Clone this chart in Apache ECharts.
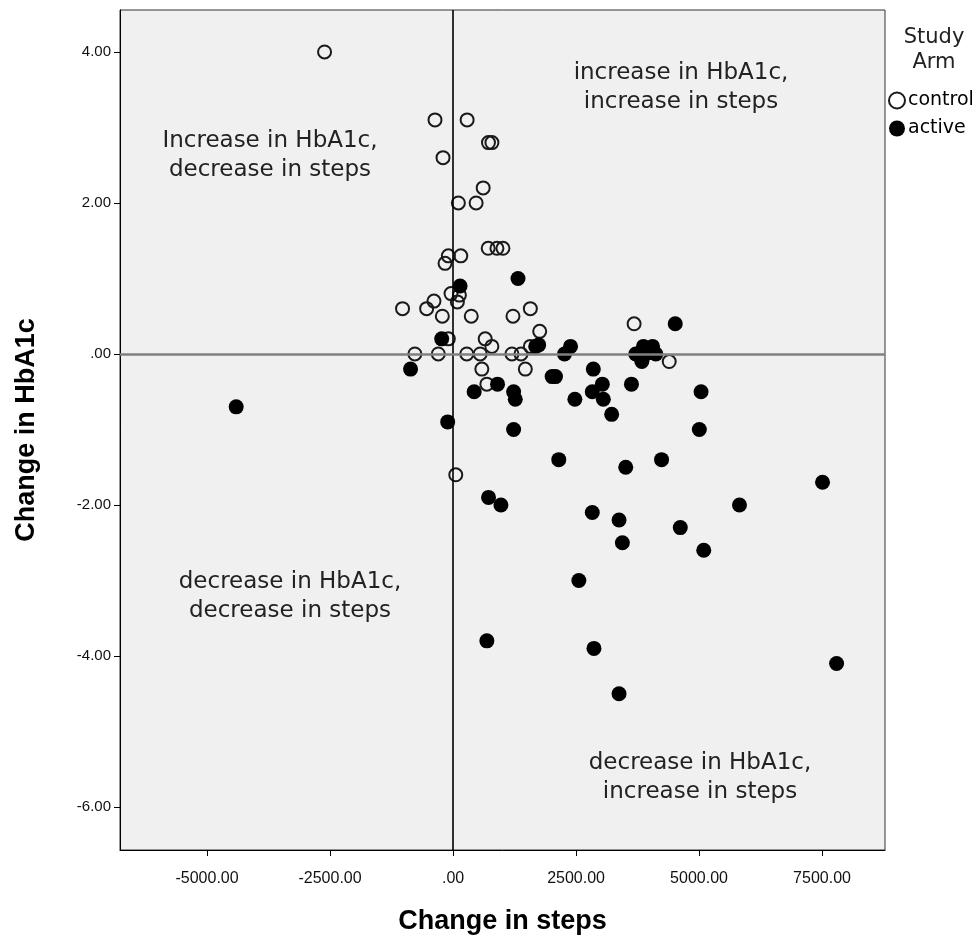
<!DOCTYPE html>
<html>
<head>
<meta charset="utf-8">
<script src="https://cdn.jsdelivr.net/npm/echarts@6/dist/echarts.min.js"></script>
<style>
html,body{margin:0;padding:0;background:#fff;}
#chart{width:980px;height:943px;}
</style>
</head>
<body>
<div id="chart"></div>
<script>
// Study arm: control (open circles) — [change in steps, change in HbA1c]
const controlPoints = [
  [-2612, 4.0], [-367, 3.1], [286, 3.1], [-204, 2.6], [720, 2.8], [790, 2.8],
  [612, 2.2], [108, 2.0], [469, 2.0], [714, 1.4], [892, 1.4], [1014, 1.4],
  [-96, 1.3], [157, 1.3], [-163, 1.2], [-41, 0.8], [129, 0.78], [88, 0.69],
  [-388, 0.7], [-1027, 0.6], [-537, 0.6], [1571, 0.6], [-218, 0.5], [370, 0.5],
  [1218, 0.5], [1761, 0.3], [-96, 0.2], [653, 0.2], [789, 0.1], [1571, 0.1],
  [-776, 0.0], [-300, 0.0], [279, 0.0], [551, 0.0], [1197, 0.0], [1381, 0.0],
  [585, -0.2], [1469, -0.2], [687, -0.4], [55, -1.6], [3680, 0.4], [4394, -0.1]
];
// Study arm: active (filled circles)
const activePoints = [
  [-4408, -0.7], [143, 0.9], [1320, 1.0], [-231, 0.2], [1680, 0.1], [1740, 0.12],
  [-864, -0.2], [429, -0.5], [904, -0.4], [1231, -0.5], [1265, -0.6],
  [2014, -0.3], [2082, -0.3], [-109, -0.9], [1231, -1.0], [2265, 0.0], [2388, 0.1],
  [2851, -0.2], [3034, -0.4], [2830, -0.5], [3055, -0.6], [2476, -0.6], [3224, -0.8],
  [3626, -0.4], [5041, -0.5], [4516, 0.4], [3870, 0.1], [4055, 0.1], [3714, 0.0],
  [3918, 0.0], [4122, 0.0], [3837, -0.1], [5006, -1.0], [2149, -1.4], [3510, -1.5],
  [4238, -1.4], [721, -1.9], [973, -2.0], [2830, -2.1], [3374, -2.2], [3442, -2.5],
  [4619, -2.3], [5096, -2.6], [5822, -2.0], [2557, -3.0], [687, -3.8], [2864, -3.9],
  [3374, -4.5], [7510, -1.7], [7796, -4.1]
];
const xTicks = [-5000, -2500, 0, 2500, 5000, 7500];
const yTicks = [-6, -4, -2, 0, 2, 4];
const seriesNames = ['control', 'active'];
const quadrantNotes = [
  {text: 'increase in HbA1c,\nincrease in steps', x: 681, y: 88},
  {text: 'Increase in HbA1c,\ndecrease in steps', x: 270, y: 156},
  {text: 'decrease in HbA1c,\ndecrease in steps', x: 290, y: 597},
  {text: 'decrease in HbA1c,\nincrease in steps', x: 700, y: 778}
];

const FONT = '"Liberation Sans", Arial, sans-serif';
const NOTE_FONT = '"DejaVu Sans", sans-serif';
const fmt = v => (v === 0 ? '.00' : Number(v).toFixed(2));

const chart = echarts.init(document.getElementById('chart'), null, {renderer: 'canvas'});
chart.setOption({
  animation: false,
  backgroundColor: '#ffffff',
  grid: {
    left: 120, top: 10, right: 95, bottom: 93,
    show: true, backgroundColor: '#f0f0f0', borderColor: '#333', borderWidth: 1
  },
  xAxis: {
    type: 'value', min: -6770, max: 8780,
    name: 'Change in steps', nameLocation: 'middle', nameGap: 58,
    nameTextStyle: {fontFamily: FONT, fontWeight: 'bold', fontSize: 27, color: '#000'},
    axisLine: {show: true, onZero: false, lineStyle: {color: '#000', width: 1}},
    axisTick: {show: true, length: 6, lineStyle: {color: '#000'}, customValues: xTicks},
    axisLabel: {fontFamily: FONT, fontSize: 16, color: '#111', margin: 21, customValues: xTicks, formatter: fmt},
    splitLine: {show: false}
  },
  yAxis: {
    type: 'value', min: -6.57, max: 4.556,
    name: 'Change in HbA1c', nameLocation: 'middle', nameGap: 80, nameRotate: 90,
    nameTextStyle: {fontFamily: FONT, fontWeight: 'bold', fontSize: 27, color: '#000'},
    axisLine: {show: true, onZero: false, lineStyle: {color: '#000', width: 1}},
    axisTick: {show: true, length: 6, lineStyle: {color: '#000'}, customValues: yTicks},
    axisLabel: {fontFamily: FONT, fontSize: 15, color: '#111', margin: 9, customValues: yTicks, formatter: fmt},
    splitLine: {show: false}
  },
  legend: {
    orient: 'vertical', left: 888, top: 91, padding: 0, itemWidth: 16, itemHeight: 16, itemGap: 9,
    icon: 'circle',
    data: seriesNames,
    textStyle: {fontFamily: NOTE_FONT, fontSize: 19, color: '#000', padding: [0, 0, 0, -2]}
  },
  graphic: [
    {type: 'text', x: 934, y: 50, z: 10,
     style: {text: 'Study\nArm', fontFamily: NOTE_FONT, fontSize: 21, fill: '#222', align: 'center', verticalAlign: 'middle', lineHeight: 25}}
  ].concat(quadrantNotes.map(n => ({
    type: 'text', z: 10, x: n.x, y: n.y,
    style: {text: n.text, fontFamily: NOTE_FONT, fontSize: 23, fill: '#222', align: 'center', verticalAlign: 'middle', lineHeight: 29}
  }))),
  series: [
    {
      type: 'scatter', name: 'refLines', data: [], z: 1, silent: true,
      markLine: {
        silent: true, symbol: 'none', label: {show: false},
        data: [
          {xAxis: 0, lineStyle: {color: '#000', width: 1.6, type: 'solid'}},
          {yAxis: 0, lineStyle: {color: '#808080', width: 2.6, type: 'solid'}}
        ]
      }
    },
    {
      type: 'scatter', name: seriesNames[0], data: controlPoints, z: 3,
      symbol: 'circle', symbolSize: 13,
      itemStyle: {color: 'rgba(0,0,0,0)', borderColor: '#1a1a1a', borderWidth: 2, opacity: 1}
    },
    {
      type: 'scatter', name: seriesNames[1], data: activePoints, z: 4,
      symbol: 'circle', symbolSize: 15,
      itemStyle: {color: '#000', opacity: 1}
    }
  ]
});
</script>
</body>
</html>
